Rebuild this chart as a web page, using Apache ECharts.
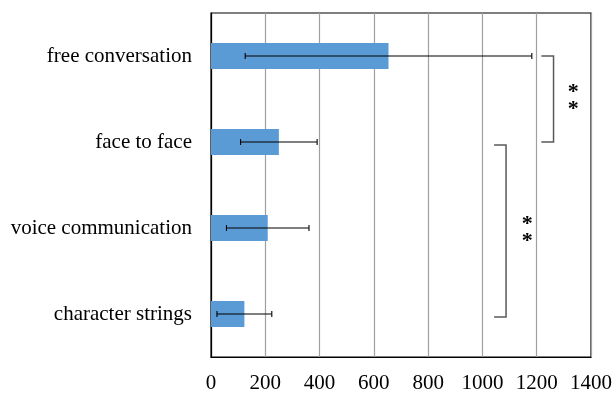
<!DOCTYPE html>
<html>
<head>
<meta charset="utf-8">
<script src="https://cdn.jsdelivr.net/npm/echarts@6/dist/echarts.min.js"></script>
<style>html,body{margin:0;padding:0;background:#fff}#c{width:615px;height:394px}</style>
</head>
<body>
<div id="c"></div>
<script>
const categories = ['character strings', 'voice communication', 'face to face', 'free conversation'];
const means = [123, 209, 250, 654];
const errors = [101, 152, 141, 528];
const xTicks = { min: 0, max: 1400, interval: 200 };
// brackets: [x-left, x-right, fromCategory, toCategory, starX]
const brackets = [
  [1217, 1262, 3, 2, 1335],
  [1043, 1087, 2, 0, 1165]
];
const sigLabel = '*\n*';

const FONT = '"Liberation Serif", "Times New Roman", serif';
const chart = echarts.init(document.getElementById('c'), null, { renderer: 'canvas' });

const errData = means.map((m, i) => [i, m - errors[i], m + errors[i]]);

chart.setOption({
  animation: false,
  grid: { left: 211, right: 23, top: 13, bottom: 36, show: true, borderColor: '#000', borderWidth: 1.2 },
  xAxis: {
    type: 'value', min: xTicks.min, max: xTicks.max, interval: xTicks.interval,
    axisLine: { show: true, lineStyle: { color: '#000', width: 1.2 } },
    axisTick: { show: false },
    splitLine: { show: true, lineStyle: { color: '#a0a0a0', width: 1.2 } },
    axisLabel: { color: '#000', fontFamily: FONT, fontSize: 21, margin: 16,
                 formatter: function (v) { return String(v); } }
  },
  yAxis: {
    type: 'category', data: categories,
    axisLine: { show: true, lineStyle: { color: '#000', width: 1.2 } },
    axisTick: { show: false },
    axisLabel: { color: '#000', fontFamily: FONT, fontSize: 21, margin: 19 }
  },
  series: [
    {
      type: 'bar', data: means, barWidth: '30%',
      itemStyle: { color: '#5B9BD5' }, z: 2
    },
    {
      type: 'custom', data: errData, z: 3,
      renderItem: function (params, api) {
        const c = api.value(0);
        const p1 = api.coord([api.value(1), c]);
        const p2 = api.coord([api.value(2), c]);
        const h = 3;
        const st = { stroke: '#000', lineWidth: 1.1 };
        return {
          type: 'group', children: [
            { type: 'line', shape: { x1: p1[0], y1: p1[1], x2: p2[0], y2: p2[1] }, style: st },
            { type: 'line', shape: { x1: p1[0], y1: p1[1] - h, x2: p1[0], y2: p1[1] + h }, style: st },
            { type: 'line', shape: { x1: p2[0], y1: p2[1] - h, x2: p2[0], y2: p2[1] + h }, style: st }
          ]
        };
      }
    },
    {
      type: 'custom', data: brackets, z: 4,
      renderItem: function (params, api) {
        const xl = api.value(0), xr = api.value(1);
        const off = params.dataIndex === 1 ? 3 : 0;
        const a = api.coord([xl, api.value(2)]);
        const b = api.coord([xr, api.value(3)]);
        const top = a[1] + off, bot = b[1] + off;
        const s = api.coord([api.value(4), api.value(2)]);
        const s2 = api.coord([api.value(4), api.value(3)]);
        const midY = (s[1] + s2[1]) / 2 + off;
        return {
          type: 'group', children: [
            { type: 'polyline', shape: { points: [[a[0], top], [b[0], top], [b[0], bot], [a[0], bot]] },
              style: { stroke: '#595959', lineWidth: 1.5, fill: null } },
            { type: 'text', x: s[0], y: midY + 2,
              style: { text: sigLabel, fontFamily: FONT, fontSize: 22, fontWeight: 'bold', lineHeight: 16.5, fill: '#000',
                       align: 'center', verticalAlign: 'middle' } }
          ]
        };
      }
    }
  ]
});
</script>
</body>
</html>
